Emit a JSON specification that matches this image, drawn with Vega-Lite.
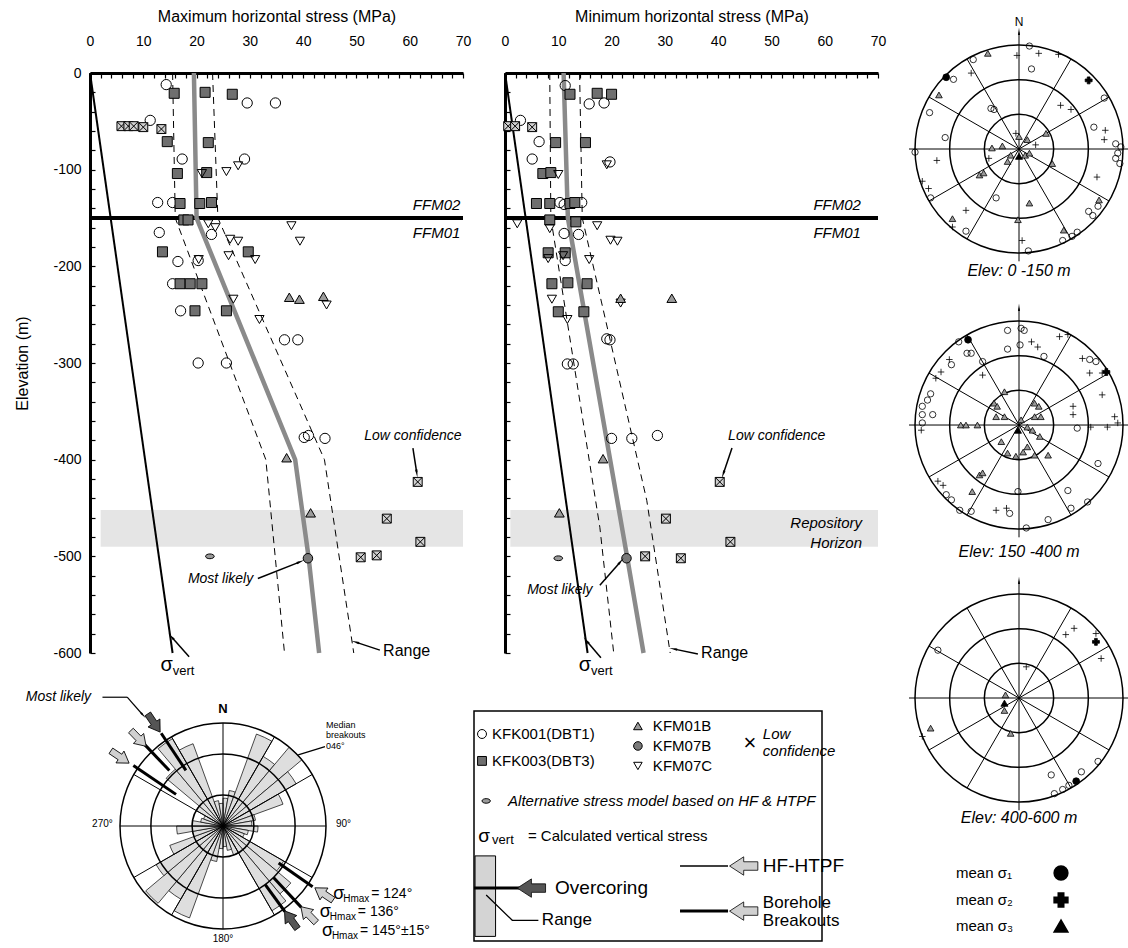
{
"$schema":"https://vega.github.io/schema/vega-lite/v6.json",
"background":"white",
"padding":{"left":14,"top":8,"right":0,"bottom":0},
"config":{"font":"Liberation Sans","view":{"stroke":null},
 "axis":{"labelFont":"Liberation Sans","titleFont":"Liberation Sans","labelColor":"black","titleColor":"black","domainColor":"black","tickColor":"black","titleFontWeight":"normal"},
 "text":{"font":"Liberation Sans","color":"black"},
 "legend":{"labelFont":"Liberation Sans","labelColor":"black"}},
"bounds":"full",
"spacing":22,
"resolve":{"scale":{"shape":"independent","fill":"independent","size":"independent"}},
"hconcat":[
{"bounds":"full","spacing":12,"resolve":{"scale":{"shape":"independent","fill":"independent","size":"independent"}},"vconcat":[
 {"bounds":"flush","spacing":42,"resolve":{"scale":{"shape":"independent","fill":"independent","size":"independent"}},"hconcat":[
  {"width":373,"height":580,
   "encoding":{
    "x":{"field":"x","type":"quantitative","scale":{"domain":[0,70],"nice":false,"zero":false},"axis":{"orient":"top","title":"Maximum horizontal stress (MPa)","values":[0,2,4,6,8,10,12,14,16,18,20,22,24,26,28,30,32,34,36,38,40,42,44,46,48,50,52,54,56,58,60,62,64,66,68,70],"labelExpr":"datum.value % 10 === 0 ? datum.label : ''","tickSize":-5,"labelPadding":30,"titlePadding":10,"domainWidth":3,"tickWidth":1.2,"labelFontSize":14,"titleFontSize":16,"grid":false,"labelFlush":false,"labelOverlap":false}},
    "y":{"field":"y","type":"quantitative","scale":{"domain":[-600,0],"nice":false,"zero":false},"axis":{"title":"Elevation (m)","values":[-600,-580,-560,-540,-520,-500,-480,-460,-440,-420,-400,-380,-360,-340,-320,-300,-280,-260,-240,-220,-200,-180,-160,-140,-120,-100,-80,-60,-40,-20,0],"labelExpr":"datum.value % 100 === 0 ? '' + datum.value : ''","tickSize":-5,"labelPadding":14,"titlePadding":22,"domainWidth":3,"tickWidth":1.2,"labelFontSize":14,"titleFontSize":16,"grid":false,"labelOverlap":false}}
   },
   "layer":[
    {"data":{"name":"band"},"transform":[{"filter":"datum.p=='max'"}],"mark":{"type":"rect","fill":"#d4d4d4","opacity":0.6},"encoding":{"x2":{"field":"x2"},"y2":{"field":"y2"}}},
    {"data":{"name":"ffm"},"mark":{"type":"rule","strokeWidth":4,"color":"black"},"encoding":{"x2":{"field":"x2"}}},
    {"data":{"name":"prof"},"transform":[{"filter":"datum.p=='max' && (datum.s=='lo' || datum.s=='hi')"}],"mark":{"type":"line","color":"black","strokeWidth":1,"strokeDash":[7,5]},"encoding":{"detail":{"field":"s"},"order":{"field":"y","type":"quantitative","sort":"descending"}}},
    {"data":{"name":"prof"},"transform":[{"filter":"datum.p=='max' && datum.s=='sv'"}],"mark":{"type":"line","color":"black","strokeWidth":2},"encoding":{"order":{"field":"y","type":"quantitative","sort":"descending"}}},
    {"data":{"name":"prof"},"transform":[{"filter":"datum.p=='max' && datum.s=='ml'"}],"mark":{"type":"line","color":"#8a8a8a","strokeWidth":4.5},"encoding":{"order":{"field":"y","type":"quantitative","sort":"descending"}}},
    {"data":{"name":"pts"},"transform":[{"filter":"datum.p=='max'"}],"mark":{"type":"point","filled":true,"stroke":"black","strokeWidth":1,"opacity":1},
     "encoding":{
      "shape":{"field":"s","type":"nominal","scale":{"domain":["KFK001(DBT1)","KFK003(DBT3)","KFM01B","KFM07B","KFM07C","Low confidence","Alternative"],"range":["circle","square","triangle-up","circle","triangle-down","M-1,-1H1V1H-1ZM-1,-1L1,1M-1,1L1,-1","M-1,0A1,0.55,0,1,1,1,0A1,0.55,0,1,1,-1,0Z"]},"legend":null},
      "fill":{"field":"s","type":"nominal","scale":{"domain":["KFK001(DBT1)","KFK003(DBT3)","KFM01B","KFM07B","KFM07C","Low confidence","Alternative"],"range":["transparent","#6f6f6f","#9a9a9a","#7a7a7a","transparent","#d0d0d0","#9a9a9a"]},"legend":null},
      "size":{"field":"s","type":"ordinal","scale":{"domain":["KFK001(DBT1)","KFK003(DBT3)","KFM01B","KFM07B","KFM07C","Low confidence","Alternative"],"range":[105,75,75,270,100,70,420]},"legend":null}}},
    {"data":{"name":"notes"},"transform":[{"filter":"datum.p=='max' && indexof(['FFM02','FFM01','Repository','Horizon'], datum.t) >= 0"}],"mark":{"type":"text","align":"right","baseline":"middle","fontStyle":"italic","fontSize":15},"encoding":{"text":{"field":"t"}}},
    {"data":{"name":"notes"},"transform":[{"filter":"datum.p=='max' && indexof(['Low confidence','Most likely'], datum.t) >= 0"}],"mark":{"type":"text","align":"center","baseline":"middle","fontStyle":"italic","fontSize":14},"encoding":{"text":{"field":"t"}}},
    {"data":{"name":"notes"},"transform":[{"filter":"datum.p=='max' && datum.t=='Range'"}],"mark":{"type":"text","align":"left","baseline":"middle","fontSize":16},"encoding":{"text":{"field":"t"}}},
    {"data":{"name":"notes"},"transform":[{"filter":"datum.p=='max' && datum.t=='σ'"}],"mark":{"type":"text","align":"center","baseline":"middle","fontSize":20},"encoding":{"text":{"field":"t"}}},
    {"data":{"name":"notes"},"transform":[{"filter":"datum.p=='max' && datum.t=='σ'"}],"mark":{"type":"text","align":"left","baseline":"middle","fontSize":13,"dx":6,"dy":6,"text":"vert"}},
    {"data":{"name":"arr"},"transform":[{"filter":"datum.p=='max'"}],"mark":{"type":"rule","strokeWidth":1.5,"color":"black"},"encoding":{"x2":{"field":"x2"},"y2":{"field":"y2"}}},
    {"data":{"name":"arr"},"transform":[{"filter":"datum.p=='max'"},{"calculate":"atan2((datum.x2-datum.x)*5.33,(datum.y2-datum.y)*0.967)*180/PI","as":"ang"}],"mark":{"type":"point","shape":"wedge","filled":true,"color":"black","size":90,"opacity":1},"encoding":{"x":{"field":"x2","type":"quantitative"},"y":{"field":"y2","type":"quantitative"},"angle":{"field":"ang","type":"quantitative","scale":null}}}
   ]},
  {"width":373,"height":580,
   "encoding":{
    "x":{"field":"x","type":"quantitative","scale":{"domain":[0,70],"nice":false,"zero":false},"axis":{"orient":"top","title":"Minimum horizontal stress (MPa)","values":[0,2,4,6,8,10,12,14,16,18,20,22,24,26,28,30,32,34,36,38,40,42,44,46,48,50,52,54,56,58,60,62,64,66,68,70],"labelExpr":"datum.value % 10 === 0 ? datum.label : ''","tickSize":-5,"labelPadding":30,"titlePadding":10,"domainWidth":3,"tickWidth":1.2,"labelFontSize":14,"titleFontSize":16,"grid":false,"labelFlush":false,"labelOverlap":false}},
    "y":{"field":"y","type":"quantitative","scale":{"domain":[-600,0],"nice":false,"zero":false},"axis":{"title":null,"labels":false,"values":[-600,-580,-560,-540,-520,-500,-480,-460,-440,-420,-400,-380,-360,-340,-320,-300,-280,-260,-240,-220,-200,-180,-160,-140,-120,-100,-80,-60,-40,-20,0],"tickSize":-5,"domainWidth":3,"tickWidth":1.2,"grid":false}}
   },
   "layer":[
    {"data":{"name":"band"},"transform":[{"filter":"datum.p=='min'"}],"mark":{"type":"rect","fill":"#d4d4d4","opacity":0.6},"encoding":{"x2":{"field":"x2"},"y2":{"field":"y2"}}},
    {"data":{"name":"ffm"},"mark":{"type":"rule","strokeWidth":4,"color":"black"},"encoding":{"x2":{"field":"x2"}}},
    {"data":{"name":"prof"},"transform":[{"filter":"datum.p=='min' && (datum.s=='lo' || datum.s=='hi')"}],"mark":{"type":"line","color":"black","strokeWidth":1,"strokeDash":[7,5]},"encoding":{"detail":{"field":"s"},"order":{"field":"y","type":"quantitative","sort":"descending"}}},
    {"data":{"name":"prof"},"transform":[{"filter":"datum.p=='min' && datum.s=='sv'"}],"mark":{"type":"line","color":"black","strokeWidth":2},"encoding":{"order":{"field":"y","type":"quantitative","sort":"descending"}}},
    {"data":{"name":"prof"},"transform":[{"filter":"datum.p=='min' && datum.s=='ml'"}],"mark":{"type":"line","color":"#8a8a8a","strokeWidth":4.5},"encoding":{"order":{"field":"y","type":"quantitative","sort":"descending"}}},
    {"data":{"name":"pts"},"transform":[{"filter":"datum.p=='min'"}],"mark":{"type":"point","filled":true,"stroke":"black","strokeWidth":1,"opacity":1},
     "encoding":{
      "shape":{"field":"s","type":"nominal","scale":{"domain":["KFK001(DBT1)","KFK003(DBT3)","KFM01B","KFM07B","KFM07C","Low confidence","Alternative"],"range":["circle","square","triangle-up","circle","triangle-down","M-1,-1H1V1H-1ZM-1,-1L1,1M-1,1L1,-1","M-1,0A1,0.55,0,1,1,1,0A1,0.55,0,1,1,-1,0Z"]},"legend":null},
      "fill":{"field":"s","type":"nominal","scale":{"domain":["KFK001(DBT1)","KFK003(DBT3)","KFM01B","KFM07B","KFM07C","Low confidence","Alternative"],"range":["transparent","#6f6f6f","#9a9a9a","#7a7a7a","transparent","#d0d0d0","#9a9a9a"]},"legend":null},
      "size":{"field":"s","type":"ordinal","scale":{"domain":["KFK001(DBT1)","KFK003(DBT3)","KFM01B","KFM07B","KFM07C","Low confidence","Alternative"],"range":[105,75,75,270,100,70,420]},"legend":null}}},
    {"data":{"name":"notes"},"transform":[{"filter":"datum.p=='min' && indexof(['FFM02','FFM01','Repository','Horizon'], datum.t) >= 0"}],"mark":{"type":"text","align":"right","baseline":"middle","fontStyle":"italic","fontSize":15},"encoding":{"text":{"field":"t"}}},
    {"data":{"name":"notes"},"transform":[{"filter":"datum.p=='min' && indexof(['Low confidence','Most likely'], datum.t) >= 0"}],"mark":{"type":"text","align":"center","baseline":"middle","fontStyle":"italic","fontSize":14},"encoding":{"text":{"field":"t"}}},
    {"data":{"name":"notes"},"transform":[{"filter":"datum.p=='min' && datum.t=='Range'"}],"mark":{"type":"text","align":"left","baseline":"middle","fontSize":16},"encoding":{"text":{"field":"t"}}},
    {"data":{"name":"notes"},"transform":[{"filter":"datum.p=='min' && datum.t=='σ'"}],"mark":{"type":"text","align":"center","baseline":"middle","fontSize":20},"encoding":{"text":{"field":"t"}}},
    {"data":{"name":"notes"},"transform":[{"filter":"datum.p=='min' && datum.t=='σ'"}],"mark":{"type":"text","align":"left","baseline":"middle","fontSize":13,"dx":6,"dy":6,"text":"vert"}},
    {"data":{"name":"arr"},"transform":[{"filter":"datum.p=='min'"}],"mark":{"type":"rule","strokeWidth":1.5,"color":"black"},"encoding":{"x2":{"field":"x2"},"y2":{"field":"y2"}}},
    {"data":{"name":"arr"},"transform":[{"filter":"datum.p=='min'"},{"calculate":"atan2((datum.x2-datum.x)*5.33,(datum.y2-datum.y)*0.967)*180/PI","as":"ang"}],"mark":{"type":"point","shape":"wedge","filled":true,"color":"black","size":90,"opacity":1},"encoding":{"x":{"field":"x2","type":"quantitative"},"y":{"field":"y2","type":"quantitative"},"angle":{"field":"ang","type":"quantitative","scale":null}}}
   ]}
 ]},
 {"bounds":"flush","spacing":118,"center":true,"resolve":{"scale":{"shape":"independent","fill":"independent","size":"independent"}},"hconcat":[
  {"width":266,"height":266,
   "encoding":{"x":{"field":"x","type":"quantitative","scale":{"domain":[-1.291,1.291],"nice":false,"zero":false},"axis":null},
               "y":{"field":"y","type":"quantitative","scale":{"domain":[-1.291,1.291],"nice":false,"zero":false},"axis":null}},
   "layer":[
    {"data":{"name":"petals"},"mark":{"type":"arc","fill":"#dedede","stroke":"black","strokeWidth":0.7},"encoding":{"x":null,"y":null,"theta":{"field":"a0","type":"quantitative","scale":{"domain":[0,360],"range":[0,6.2832]}},"theta2":{"field":"a1"},"radius":{"field":"r","type":"quantitative","scale":{"type":"linear","domain":[0,1],"range":[0,103],"zero":true}}}},
    {"data":{"name":"sp12"},"mark":{"type":"rule","strokeWidth":1,"color":"black"},"encoding":{"x2":{"field":"x2"},"y2":{"field":"y2"}}},
    {"data":{"name":"rring"},"mark":{"type":"point","filled":false,"stroke":"black","strokeWidth":1.5,"opacity":1},"encoding":{"size":{"field":"r","type":"quantitative","scale":{"type":"pow","exponent":2,"domain":[0,1],"range":[0,42436]},"legend":null}}},
    {"data":{"name":"rshaft"},"mark":{"type":"rule","strokeWidth":3,"color":"black"},"encoding":{"x2":{"field":"x2"},"y2":{"field":"y2"}}},
    {"data":{"name":"rarr"},"transform":[{"calculate":"(datum.b+180)%360","as":"rot"}],"mark":{"type":"point","filled":true,"stroke":"black","strokeWidth":0.8,"opacity":1,"size":484,"shape":"M-0.3,1L0.3,1L0.3,0L0.65,0L0,-1L-0.65,0L-0.3,0Z"},"encoding":{"fill":{"field":"k","type":"nominal","scale":{"domain":["light","dark"],"range":["#d0d0d0","#555555"]},"legend":null},"angle":{"field":"rot","type":"quantitative","scale":null}}},
    {"data":{"name":"rlead"},"mark":{"type":"rule","strokeWidth":1.2,"color":"black"},"encoding":{"x2":{"field":"x2"},"y2":{"field":"y2"}}},
    {"data":{"name":"rhead"},"transform":[{"calculate":"atan2(datum.x2-datum.x,datum.y2-datum.y)*180/PI","as":"ang"}],"mark":{"type":"point","shape":"wedge","filled":true,"color":"black","size":70,"opacity":1},"encoding":{"x":{"field":"x2","type":"quantitative"},"y":{"field":"y2","type":"quantitative"},"angle":{"field":"ang","type":"quantitative","scale":null}}},
    {"data":{"name":"rlab"},"transform":[{"filter":"datum.t!='N' && datum.t!='Most likely'"}],"mark":{"type":"text","align":"center","baseline":"middle","fontSize":10},"encoding":{"text":{"field":"t"}}},
    {"data":{"name":"rlab"},"transform":[{"filter":"datum.t=='N'"}],"mark":{"type":"text","align":"center","baseline":"middle","fontSize":13,"fontWeight":"bold"},"encoding":{"text":{"field":"t"}}},
    {"data":{"name":"rlab"},"transform":[{"filter":"datum.t=='Most likely'"}],"mark":{"type":"text","align":"right","baseline":"middle","fontSize":14,"fontStyle":"italic"},"encoding":{"text":{"field":"t"}}},
    {"data":{"name":"rmed"},"mark":{"type":"text","align":"left","baseline":"middle","fontSize":9},"encoding":{"text":{"field":"t"}}},
    {"data":{"name":"shm"},"mark":{"type":"text","align":"left","baseline":"middle","fontSize":18,"text":"σ"}},
    {"data":{"name":"shm"},"mark":{"type":"text","align":"left","baseline":"middle","fontSize":10,"dx":10,"dy":5,"text":"Hmax"}},
    {"data":{"name":"shm"},"mark":{"type":"text","align":"left","baseline":"middle","fontSize":14,"dx":38},"encoding":{"text":{"field":"v"}}}
   ]},
  {"width":348,"height":230,
   "view":{"stroke":"black","strokeWidth":1.5},
   "encoding":{"x":{"field":"x","type":"quantitative","scale":{"domain":[0,1],"nice":false,"zero":false},"axis":null},
               "y":{"field":"y","type":"quantitative","scale":{"domain":[0,1],"nice":false,"zero":false},"axis":null}},
   "layer":[
    {"data":{"name":"legrect"},"mark":{"type":"rect","fill":"#d4d4d4","stroke":"black","strokeWidth":1},"encoding":{"x2":{"field":"x2"},"y2":{"field":"y2"}}},
    {"data":{"name":"legrule"},"transform":[{"filter":"datum.k!='hf'"}],"mark":{"type":"rule","strokeWidth":3,"color":"black"},"encoding":{"x2":{"field":"x2"},"y2":{"field":"y2"}}},
    {"data":{"name":"legrule"},"transform":[{"filter":"datum.k=='hf'"}],"mark":{"type":"rule","strokeWidth":1.5,"color":"black"},"encoding":{"x2":{"field":"x2"},"y2":{"field":"y2"}}},
    {"data":{"name":"legline"},"mark":{"type":"line","strokeWidth":1.3,"color":"black"},"encoding":{"order":{"field":"o","type":"quantitative"}}},
    {"data":{"name":"legarr"},"transform":[{"filter":"datum.k=='dark'"}],"mark":{"type":"point","filled":true,"fill":"#555555","stroke":"black","strokeWidth":0.8,"opacity":1,"size":800,"angle":270,"shape":"M-0.3,1L0.3,1L0.3,0L0.65,0L0,-1L-0.65,0L-0.3,0Z"}},
    {"data":{"name":"legarr"},"transform":[{"filter":"datum.k=='light'"}],"mark":{"type":"point","filled":true,"fill":"#d0d0d0","stroke":"black","strokeWidth":0.8,"opacity":1,"size":800,"angle":270,"shape":"M-0.3,1L0.3,1L0.3,0L0.65,0L0,-1L-0.65,0L-0.3,0Z"}},
    {"data":{"name":"legsym"},"mark":{"type":"point","filled":true,"stroke":"black","strokeWidth":1,"opacity":1},
     "encoding":{
      "shape":{"field":"s","type":"nominal","scale":{"domain":["KFK001(DBT1)","KFK003(DBT3)","KFM01B","KFM07B","KFM07C","Alternative"],"range":["circle","square","triangle-up","circle","triangle-down","M-1,0A1,0.55,0,1,1,1,0A1,0.55,0,1,1,-1,0Z"]},"legend":null},
      "fill":{"field":"s","type":"nominal","scale":{"domain":["KFK001(DBT1)","KFK003(DBT3)","KFM01B","KFM07B","KFM07C","Alternative"],"range":["transparent","#6f6f6f","#9a9a9a","#7a7a7a","transparent","#9a9a9a"]},"legend":null},
      "size":{"field":"s","type":"ordinal","scale":{"domain":["KFK001(DBT1)","KFK003(DBT3)","KFM01B","KFM07B","KFM07C","Alternative"],"range":[80,70,70,90,90,420]},"legend":null}}},
    {"data":{"name":"legtxt"},"transform":[{"filter":"indexof(['KFK001(DBT1)','KFK003(DBT3)','KFM01B','KFM07B','KFM07C','= Calculated vertical stress'], datum.t) >= 0"}],"mark":{"type":"text","align":"left","baseline":"middle","fontSize":15},"encoding":{"text":{"field":"t"}}},
    {"data":{"name":"legtxt"},"transform":[{"filter":"indexof(['Low','confidence','Alternative stress model based on HF & HTPF'], datum.t) >= 0"}],"mark":{"type":"text","align":"left","baseline":"middle","fontSize":15,"fontStyle":"italic"},"encoding":{"text":{"field":"t"}}},
    {"data":{"name":"legtxt"},"transform":[{"filter":"indexof(['Overcoring','HF-HTPF'], datum.t) >= 0"}],"mark":{"type":"text","align":"left","baseline":"middle","fontSize":19},"encoding":{"text":{"field":"t"}}},
    {"data":{"name":"legtxt"},"transform":[{"filter":"indexof(['Range','Borehole','Breakouts'], datum.t) >= 0"}],"mark":{"type":"text","align":"left","baseline":"middle","fontSize":17},"encoding":{"text":{"field":"t"}}},
    {"data":{"name":"legtxt"},"transform":[{"filter":"datum.t=='×'"}],"mark":{"type":"text","align":"center","baseline":"middle","fontSize":22},"encoding":{"text":{"field":"t"}}},
    {"data":{"name":"legtxt"},"transform":[{"filter":"datum.t=='σ'"}],"mark":{"type":"text","align":"center","baseline":"middle","fontSize":19},"encoding":{"text":{"field":"t"}}},
    {"data":{"name":"legtxt"},"transform":[{"filter":"datum.t=='vert'"}],"mark":{"type":"text","align":"left","baseline":"middle","fontSize":13},"encoding":{"text":{"field":"t"}}}
   ]}
 ]}
]},
{"bounds":"flush","spacing":20,"resolve":{"scale":{"shape":"independent","fill":"independent","size":"independent"}},"vconcat":[
 {"width":220,"height":222,
  "encoding":{"x":{"field":"x","type":"quantitative","scale":{"domain":[-1.058,1.058],"nice":false,"zero":false},"axis":null},
              "y":{"field":"y","type":"quantitative","scale":{"domain":[-1.404,0.731],"nice":false,"zero":false},"axis":null}},
  "layer":[
   {"data":{"name":"sgrid"},"mark":{"type":"rule","strokeWidth":1,"color":"black"},"encoding":{"x2":{"field":"x2"},"y2":{"field":"y2"}}},
   {"data":{"name":"snorth"},"mark":{"type":"point","shape":"wedge","filled":true,"color":"black","size":70,"opacity":1}},
   {"data":{"name":"sring"},"mark":{"type":"point","filled":false,"stroke":"black","strokeWidth":1.5,"opacity":1},"encoding":{"size":{"field":"r","type":"quantitative","scale":{"type":"pow","exponent":2,"domain":[0,1],"range":[0,43264]},"legend":null}}},
   {"data":{"name":"st"},"transform":[{"filter":"datum.n==1"}],"mark":{"type":"point","filled":true,"stroke":"black","strokeWidth":0.8,"opacity":1},
    "encoding":{
     "shape":{"field":"k","type":"nominal","scale":{"domain":["s1","s2","s3","m1","m2","m3"],"range":["circle","M-1,0L1,0M0,-1L0,1","triangle-up","circle","cross","triangle-up"]},"legend":null},
     "fill":{"field":"k","type":"nominal","scale":{"domain":["s1","s2","s3","m1","m2","m3"],"range":["transparent","transparent","#9a9a9a","black","black","black"]},"legend":null},
     "size":{"field":"k","type":"ordinal","scale":{"domain":["s1","s2","s3","m1","m2","m3"],"range":[40,50,30,180,280,210]},"legend":null}}},
   {"data":{"name":"stitle"},"transform":[{"filter":"datum.n==1 && datum.t!='N'"}],"mark":{"type":"text","fontSize":16,"fontStyle":"italic"},"encoding":{"text":{"field":"t"}}},
   {"data":{"name":"stitle"},"transform":[{"filter":"datum.t=='N'"}],"mark":{"type":"text","fontSize":12},"encoding":{"text":{"field":"t"}}}
  ]},
 {"width":220,"height":253,
  "encoding":{"x":{"field":"x","type":"quantitative","scale":{"domain":[-1.058,1.058],"nice":false,"zero":false},"axis":null},
              "y":{"field":"y","type":"quantitative","scale":{"domain":[-1.375,1.058],"nice":false,"zero":false},"axis":null}},
  "layer":[
   {"data":{"name":"sgrid"},"mark":{"type":"rule","strokeWidth":1,"color":"black"},"encoding":{"x2":{"field":"x2"},"y2":{"field":"y2"}}},
   {"data":{"name":"snorth"},"mark":{"type":"point","shape":"wedge","filled":true,"color":"black","size":70,"opacity":1}},
   {"data":{"name":"sring"},"mark":{"type":"point","filled":false,"stroke":"black","strokeWidth":1.5,"opacity":1},"encoding":{"size":{"field":"r","type":"quantitative","scale":{"type":"pow","exponent":2,"domain":[0,1],"range":[0,43264]},"legend":null}}},
   {"data":{"name":"st"},"transform":[{"filter":"datum.n==2"}],"mark":{"type":"point","filled":true,"stroke":"black","strokeWidth":0.8,"opacity":1},
    "encoding":{
     "shape":{"field":"k","type":"nominal","scale":{"domain":["s1","s2","s3","m1","m2","m3"],"range":["circle","M-1,0L1,0M0,-1L0,1","triangle-up","circle","cross","triangle-up"]},"legend":null},
     "fill":{"field":"k","type":"nominal","scale":{"domain":["s1","s2","s3","m1","m2","m3"],"range":["transparent","transparent","#9a9a9a","black","black","black"]},"legend":null},
     "size":{"field":"k","type":"ordinal","scale":{"domain":["s1","s2","s3","m1","m2","m3"],"range":[40,50,30,180,280,210]},"legend":null}}},
   {"data":{"name":"stitle"},"transform":[{"filter":"datum.n==2"}],"mark":{"type":"text","fontSize":16,"fontStyle":"italic"},"encoding":{"text":{"field":"t"}}}
  ]},
 {"width":220,"height":220,
  "encoding":{"x":{"field":"x","type":"quantitative","scale":{"domain":[-1.058,1.058],"nice":false,"zero":false},"axis":null},
              "y":{"field":"y","type":"quantitative","scale":{"domain":[-1.058,1.058],"nice":false,"zero":false},"axis":null}},
  "layer":[
   {"data":{"name":"sgrid"},"mark":{"type":"rule","strokeWidth":1,"color":"black"},"encoding":{"x2":{"field":"x2"},"y2":{"field":"y2"}}},
   {"data":{"name":"snorth"},"mark":{"type":"point","shape":"wedge","filled":true,"color":"black","size":70,"opacity":1}},
   {"data":{"name":"sring"},"mark":{"type":"point","filled":false,"stroke":"black","strokeWidth":1.5,"opacity":1},"encoding":{"size":{"field":"r","type":"quantitative","scale":{"type":"pow","exponent":2,"domain":[0,1],"range":[0,43264]},"legend":null}}},
   {"data":{"name":"st"},"transform":[{"filter":"datum.n==3"}],"mark":{"type":"point","filled":true,"stroke":"black","strokeWidth":0.8,"opacity":1},
    "encoding":{
     "shape":{"field":"k","type":"nominal","scale":{"domain":["s1","s2","s3","m1","m2","m3"],"range":["circle","M-1,0L1,0M0,-1L0,1","triangle-up","circle","cross","triangle-up"]},"legend":{"values":["m1","m2","m3"],"title":null,"orient":"none","legendX":47,"legendY":277,"labelExpr":"datum.label == 'm1' ? 'mean σ₁' : datum.label == 'm2' ? 'mean σ₂' : 'mean σ₃'","labelFontSize":15,"rowPadding":7,"symbolFillColor":"black","symbolStrokeColor":"black","symbolSize":190,"symbolOffset":97,"labelOffset":-113,"labelAlign":"left"}},
     "fill":{"field":"k","type":"nominal","scale":{"domain":["s1","s2","s3","m1","m2","m3"],"range":["transparent","transparent","#9a9a9a","black","black","black"]},"legend":null},
     "size":{"field":"k","type":"ordinal","scale":{"domain":["s1","s2","s3","m1","m2","m3"],"range":[40,50,30,180,280,210]},"legend":null}}},
   {"data":{"name":"stitle"},"transform":[{"filter":"datum.n==3"}],"mark":{"type":"text","fontSize":16,"fontStyle":"italic"},"encoding":{"text":{"field":"t"}}}
  ]}
]}
],
"datasets":{
"band":[{"p":"max","x":2,"x2":70,"y":-452,"y2":-490},{"p":"min","x":1,"x2":70,"y":-452,"y2":-490}],
"ffm":[{"x":0,"x2":70,"y":-150}],
"prof":[
{"p":"max","s":"sv","x":0,"y":0},{"p":"max","s":"sv","x":15.5,"y":-600},
{"p":"max","s":"ml","x":19.5,"y":0},{"p":"max","s":"ml","x":20,"y":-150},{"p":"max","s":"ml","x":38.5,"y":-400},{"p":"max","s":"ml","x":41,"y":-500},{"p":"max","s":"ml","x":43,"y":-600},
{"p":"max","s":"lo","x":15.5,"y":0},{"p":"max","s":"lo","x":16,"y":-150},{"p":"max","s":"lo","x":33,"y":-400},{"p":"max","s":"lo","x":36.5,"y":-600},
{"p":"max","s":"hi","x":23,"y":0},{"p":"max","s":"hi","x":24,"y":-150},{"p":"max","s":"hi","x":44,"y":-400},{"p":"max","s":"hi","x":49.5,"y":-600},
{"p":"min","s":"sv","x":0,"y":0},{"p":"min","s":"sv","x":15.5,"y":-600},
{"p":"min","s":"ml","x":11,"y":0},{"p":"min","s":"ml","x":11.8,"y":-150},{"p":"min","s":"ml","x":22.9,"y":-500},{"p":"min","s":"ml","x":26,"y":-600},
{"p":"min","s":"lo","x":8.4,"y":0},{"p":"min","s":"lo","x":8.6,"y":-150},{"p":"min","s":"lo","x":17.8,"y":-470},{"p":"min","s":"lo","x":20.4,"y":-600},
{"p":"min","s":"hi","x":14,"y":0},{"p":"min","s":"hi","x":14.5,"y":-150},{"p":"min","s":"hi","x":26.6,"y":-442},{"p":"min","s":"hi","x":31,"y":-600}],
"pts":[
{"p":"max","s":"KFK001(DBT1)","x":14.3,"y":-12},{"p":"max","s":"KFK001(DBT1)","x":29.5,"y":-31},{"p":"max","s":"KFK001(DBT1)","x":34.8,"y":-31},{"p":"max","s":"KFK001(DBT1)","x":11.3,"y":-49},{"p":"max","s":"KFK001(DBT1)","x":17.3,"y":-89},{"p":"max","s":"KFK001(DBT1)","x":29,"y":-89},{"p":"max","s":"KFK001(DBT1)","x":12.7,"y":-134},{"p":"max","s":"KFK001(DBT1)","x":15.5,"y":-134},{"p":"max","s":"KFK001(DBT1)","x":13,"y":-165},{"p":"max","s":"KFK001(DBT1)","x":22.8,"y":-167},{"p":"max","s":"KFK001(DBT1)","x":16.5,"y":-195},{"p":"max","s":"KFK001(DBT1)","x":20.3,"y":-194},{"p":"max","s":"KFK001(DBT1)","x":15.5,"y":-218},{"p":"max","s":"KFK001(DBT1)","x":17,"y":-246},{"p":"max","s":"KFK001(DBT1)","x":36.5,"y":-276},{"p":"max","s":"KFK001(DBT1)","x":39,"y":-276},{"p":"max","s":"KFK001(DBT1)","x":20.3,"y":-300},{"p":"max","s":"KFK001(DBT1)","x":25.6,"y":-300},{"p":"max","s":"KFK001(DBT1)","x":40.2,"y":-377},{"p":"max","s":"KFK001(DBT1)","x":41,"y":-375},{"p":"max","s":"KFK001(DBT1)","x":44.1,"y":-378},
{"p":"max","s":"KFK003(DBT3)","x":15.8,"y":-21},{"p":"max","s":"KFK003(DBT3)","x":21.6,"y":-20},{"p":"max","s":"KFK003(DBT3)","x":26.7,"y":-22},{"p":"max","s":"KFK003(DBT3)","x":14.5,"y":-71},{"p":"max","s":"KFK003(DBT3)","x":22.2,"y":-72},{"p":"max","s":"KFK003(DBT3)","x":16.4,"y":-104},{"p":"max","s":"KFK003(DBT3)","x":21.9,"y":-103},{"p":"max","s":"KFK003(DBT3)","x":16.9,"y":-135},{"p":"max","s":"KFK003(DBT3)","x":20.6,"y":-135},{"p":"max","s":"KFK003(DBT3)","x":22.8,"y":-134},{"p":"max","s":"KFK003(DBT3)","x":17.6,"y":-152},{"p":"max","s":"KFK003(DBT3)","x":18.4,"y":-152},{"p":"max","s":"KFK003(DBT3)","x":13.6,"y":-185},{"p":"max","s":"KFK003(DBT3)","x":29.7,"y":-185},{"p":"max","s":"KFK003(DBT3)","x":16.9,"y":-218},{"p":"max","s":"KFK003(DBT3)","x":18.8,"y":-218},{"p":"max","s":"KFK003(DBT3)","x":21,"y":-218},{"p":"max","s":"KFK003(DBT3)","x":19.7,"y":-246},{"p":"max","s":"KFK003(DBT3)","x":25.6,"y":-246},
{"p":"max","s":"Low confidence","x":5.9,"y":-55},{"p":"max","s":"Low confidence","x":7.2,"y":-55},{"p":"max","s":"Low confidence","x":8.2,"y":-55},{"p":"max","s":"Low confidence","x":10,"y":-56},{"p":"max","s":"Low confidence","x":13.4,"y":-58},{"p":"max","s":"Low confidence","x":61.5,"y":-423},{"p":"max","s":"Low confidence","x":55.7,"y":-461},{"p":"max","s":"Low confidence","x":62,"y":-485},{"p":"max","s":"Low confidence","x":50.8,"y":-501},{"p":"max","s":"Low confidence","x":53.8,"y":-499},
{"p":"max","s":"KFM07C","x":21,"y":-104},{"p":"max","s":"KFM07C","x":25.6,"y":-102},{"p":"max","s":"KFM07C","x":27.8,"y":-96},{"p":"max","s":"KFM07C","x":22.2,"y":-156},{"p":"max","s":"KFM07C","x":23.5,"y":-160},{"p":"max","s":"KFM07C","x":37.8,"y":-158},{"p":"max","s":"KFM07C","x":39.4,"y":-174},{"p":"max","s":"KFM07C","x":26.3,"y":-172},{"p":"max","s":"KFM07C","x":27.8,"y":-174},{"p":"max","s":"KFM07C","x":26,"y":-189},{"p":"max","s":"KFM07C","x":31,"y":-193},{"p":"max","s":"KFM07C","x":20.4,"y":-193},{"p":"max","s":"KFM07C","x":26.9,"y":-234},{"p":"max","s":"KFM07C","x":31.8,"y":-255},{"p":"max","s":"KFM07C","x":44.4,"y":-240},
{"p":"max","s":"KFM01B","x":37.4,"y":-232},{"p":"max","s":"KFM01B","x":39.3,"y":-234},{"p":"max","s":"KFM01B","x":43.8,"y":-231},{"p":"max","s":"KFM01B","x":36.9,"y":-398},{"p":"max","s":"KFM01B","x":41.4,"y":-455},
{"p":"max","s":"KFM07B","x":40.9,"y":-502},{"p":"max","s":"Alternative","x":22.5,"y":-500},
{"p":"min","s":"KFK001(DBT1)","x":11.3,"y":-13},{"p":"min","s":"KFK001(DBT1)","x":15.8,"y":-32},{"p":"min","s":"KFK001(DBT1)","x":18.6,"y":-31},{"p":"min","s":"KFK001(DBT1)","x":2.9,"y":-49},{"p":"min","s":"KFK001(DBT1)","x":6.4,"y":-71},{"p":"min","s":"KFK001(DBT1)","x":5.1,"y":-89},{"p":"min","s":"KFK001(DBT1)","x":19.7,"y":-92},{"p":"min","s":"KFK001(DBT1)","x":10.3,"y":-134},{"p":"min","s":"KFK001(DBT1)","x":11.1,"y":-136},{"p":"min","s":"KFK001(DBT1)","x":14.4,"y":-134},{"p":"min","s":"KFK001(DBT1)","x":11.1,"y":-166},{"p":"min","s":"KFK001(DBT1)","x":13.8,"y":-167},{"p":"min","s":"KFK001(DBT1)","x":11.3,"y":-194},{"p":"min","s":"KFK001(DBT1)","x":19.1,"y":-275},{"p":"min","s":"KFK001(DBT1)","x":19.7,"y":-276},{"p":"min","s":"KFK001(DBT1)","x":11.7,"y":-301},{"p":"min","s":"KFK001(DBT1)","x":12.8,"y":-301},{"p":"min","s":"KFK001(DBT1)","x":20,"y":-378},{"p":"min","s":"KFK001(DBT1)","x":23.8,"y":-378},{"p":"min","s":"KFK001(DBT1)","x":28.6,"y":-375},
{"p":"min","s":"KFK003(DBT3)","x":12.2,"y":-22},{"p":"min","s":"KFK003(DBT3)","x":17.3,"y":-21},{"p":"min","s":"KFK003(DBT3)","x":20,"y":-22},{"p":"min","s":"KFK003(DBT3)","x":9.5,"y":-72},{"p":"min","s":"KFK003(DBT3)","x":15.1,"y":-72},{"p":"min","s":"KFK003(DBT3)","x":7.1,"y":-104},{"p":"min","s":"KFK003(DBT3)","x":8.6,"y":-103},{"p":"min","s":"KFK003(DBT3)","x":5.9,"y":-135},{"p":"min","s":"KFK003(DBT3)","x":8.4,"y":-135},{"p":"min","s":"KFK003(DBT3)","x":12.2,"y":-135},{"p":"min","s":"KFK003(DBT3)","x":13.1,"y":-134},{"p":"min","s":"KFK003(DBT3)","x":8.4,"y":-152},{"p":"min","s":"KFK003(DBT3)","x":13.3,"y":-154},{"p":"min","s":"KFK003(DBT3)","x":8.1,"y":-186},{"p":"min","s":"KFK003(DBT3)","x":11.3,"y":-186},{"p":"min","s":"KFK003(DBT3)","x":8.8,"y":-218},{"p":"min","s":"KFK003(DBT3)","x":11.8,"y":-217},{"p":"min","s":"KFK003(DBT3)","x":15.4,"y":-218},{"p":"min","s":"KFK003(DBT3)","x":10,"y":-247},{"p":"min","s":"KFK003(DBT3)","x":14.8,"y":-247},
{"p":"min","s":"Low confidence","x":0.6,"y":-55},{"p":"min","s":"Low confidence","x":1.9,"y":-55},{"p":"min","s":"Low confidence","x":5.1,"y":-56},{"p":"min","s":"Low confidence","x":40.3,"y":-423},{"p":"min","s":"Low confidence","x":30.2,"y":-461},{"p":"min","s":"Low confidence","x":42.3,"y":-485},{"p":"min","s":"Low confidence","x":26.3,"y":-500},{"p":"min","s":"Low confidence","x":33,"y":-502},
{"p":"min","s":"KFM07C","x":10,"y":-105},{"p":"min","s":"KFM07C","x":19.1,"y":-95},{"p":"min","s":"KFM07C","x":2.3,"y":-156},{"p":"min","s":"KFM07C","x":8.4,"y":-161},{"p":"min","s":"KFM07C","x":17.3,"y":-158},{"p":"min","s":"KFM07C","x":19.8,"y":-173},{"p":"min","s":"KFM07C","x":21.1,"y":-174},{"p":"min","s":"KFM07C","x":8.1,"y":-192},{"p":"min","s":"KFM07C","x":10.9,"y":-189},{"p":"min","s":"KFM07C","x":15.8,"y":-193},{"p":"min","s":"KFM07C","x":8.8,"y":-234},{"p":"min","s":"KFM07C","x":11.7,"y":-255},{"p":"min","s":"KFM07C","x":21.7,"y":-238},
{"p":"min","s":"KFM01B","x":21.7,"y":-233},{"p":"min","s":"KFM01B","x":31.3,"y":-233},{"p":"min","s":"KFM01B","x":18.4,"y":-399},{"p":"min","s":"KFM01B","x":10.2,"y":-455},
{"p":"min","s":"KFM07B","x":22.8,"y":-502},{"p":"min","s":"Alternative","x":10,"y":-502}],
"notes":[
{"p":"max","t":"FFM02","x":69.5,"y":-137},{"p":"max","t":"FFM01","x":69.5,"y":-165},{"p":"max","t":"Low confidence","x":60.6,"y":-376},{"p":"max","t":"Most likely","x":24.5,"y":-523},{"p":"max","t":"Range","x":55,"y":-598},{"p":"max","t":"σ","x":14.4,"y":-612},
{"p":"min","t":"FFM02","x":66.8,"y":-137},{"p":"min","t":"FFM01","x":66.8,"y":-165},{"p":"min","t":"Low confidence","x":51,"y":-376},{"p":"min","t":"Most likely","x":10.3,"y":-535},{"p":"min","t":"Repository","x":67,"y":-465},{"p":"min","t":"Horizon","x":67,"y":-486},{"p":"min","t":"Range","x":36.8,"y":-600},{"p":"min","t":"σ","x":15,"y":-612}],
"arr":[
{"p":"max","x":31.5,"y":-523,"x2":39.3,"y2":-506},{"p":"max","x":60.6,"y":-388,"x2":61.3,"y2":-413},{"p":"max","x":54.4,"y":-597,"x2":50,"y2":-589},{"p":"max","x":18.6,"y":-604,"x2":15.4,"y2":-584},
{"p":"min","x":17.8,"y":-530,"x2":21.6,"y2":-506},{"p":"min","x":42.6,"y":-388,"x2":41,"y2":-414},{"p":"min","x":36.2,"y":-601,"x2":31.8,"y2":-596},{"p":"min","x":18,"y":-605,"x2":15.4,"y2":-588}],
"petals":[
{"a0":0,"a1":10,"r":0.27},{"a0":10,"a1":20,"r":0.35},{"a0":20,"a1":30,"r":0.95},{"a0":30,"a1":40,"r":0.78},{"a0":40,"a1":50,"r":1.0},{"a0":50,"a1":60,"r":0.82},{"a0":60,"a1":70,"r":0.62},{"a0":70,"a1":80,"r":0.32},{"a0":80,"a1":90,"r":0.28},{"a0":90,"a1":100,"r":0.34},{"a0":100,"a1":110,"r":0.25},{"a0":110,"a1":120,"r":0.22},{"a0":120,"a1":130,"r":0.68},{"a0":130,"a1":140,"r":0.86},{"a0":140,"a1":150,"r":0.95},{"a0":150,"a1":160,"r":0.3},{"a0":160,"a1":170,"r":0.24},{"a0":170,"a1":180,"r":0.2},
{"a0":180,"a1":190,"r":0.22},{"a0":190,"a1":200,"r":0.35},{"a0":200,"a1":210,"r":0.95},{"a0":210,"a1":220,"r":0.82},{"a0":220,"a1":230,"r":0.98},{"a0":230,"a1":240,"r":0.75},{"a0":240,"a1":250,"r":0.55},{"a0":250,"a1":260,"r":0.3},{"a0":260,"a1":270,"r":0.45},{"a0":270,"a1":280,"r":0.3},{"a0":280,"a1":290,"r":0.22},{"a0":290,"a1":300,"r":0.2},{"a0":300,"a1":310,"r":0.3},{"a0":310,"a1":320,"r":0.72},{"a0":320,"a1":330,"r":0.98},{"a0":330,"a1":340,"r":0.85},{"a0":340,"a1":350,"r":0.25},{"a0":350,"a1":360,"r":0.22}],
"sp12":[{"x":0,"y":0,"x2":0,"y2":1},{"x":0,"y":0,"x2":0.5,"y2":0.866},{"x":0,"y":0,"x2":0.866,"y2":0.5},{"x":0,"y":0,"x2":1,"y2":0},{"x":0,"y":0,"x2":0.866,"y2":-0.5},{"x":0,"y":0,"x2":0.5,"y2":-0.866},{"x":0,"y":0,"x2":0,"y2":-1},{"x":0,"y":0,"x2":-0.5,"y2":-0.866},{"x":0,"y":0,"x2":-0.866,"y2":-0.5},{"x":0,"y":0,"x2":-1,"y2":0},{"x":0,"y":0,"x2":-0.866,"y2":0.5},{"x":0,"y":0,"x2":-0.5,"y2":0.866}],
"sgrid":[{"x":0,"y":0,"x2":0.5,"y2":0.866},{"x":0,"y":0,"x2":0.866,"y2":0.5},{"x":0,"y":0,"x2":0.866,"y2":-0.5},{"x":0,"y":0,"x2":0.5,"y2":-0.866},{"x":0,"y":0,"x2":-0.5,"y2":-0.866},{"x":0,"y":0,"x2":-0.866,"y2":-0.5},{"x":0,"y":0,"x2":-0.866,"y2":0.5},{"x":0,"y":0,"x2":-0.5,"y2":0.866},{"x":-1.058,"y":0,"x2":1.05,"y2":0},{"x":0,"y":-1.08,"x2":0,"y2":1.12}],
"snorth":[{"x":0,"y":1.12}],
"rring":[{"x":0,"y":0,"r":0.3},{"x":0,"y":0,"r":0.7},{"x":0,"y":0,"r":1}],
"sring":[{"x":0,"y":0,"r":0.3333},{"x":0,"y":0,"r":0.6667},{"x":0,"y":0,"r":1}],
"stitle":[{"n":1,"t":"Elev: 0 -150 m","x":0,"y":-1.17},{"n":1,"t":"N","x":0,"y":1.22},{"n":2,"t":"Elev: 150 -400 m","x":0,"y":-1.22},{"n":3,"t":"Elev: 400-600 m","x":0,"y":-1.15}],
"rshaft":[{"x":-0.456,"y":0.307,"x2":-0.87,"y2":0.587},{"x":-0.521,"y":0.539,"x2":-0.76,"y2":0.79},{"x":-0.36,"y":0.54,"x2":-0.6,"y2":0.9},{"x":0.54,"y":-0.36,"x2":0.87,"y2":-0.59},{"x":0.49,"y":-0.5,"x2":0.76,"y2":-0.79},{"x":0.41,"y":-0.57,"x2":0.6,"y2":-0.83}],
"rarr":[{"k":"light","b":304,"x":-1.0,"y":0.67},{"k":"light","b":316,"x":-0.82,"y":0.85},{"k":"dark","b":326,"x":-0.67,"y":1.0},{"k":"light","b":124,"x":0.98,"y":-0.66},{"k":"light","b":136,"x":0.83,"y":-0.86},{"k":"dark","b":144,"x":0.66,"y":-0.91}],
"rlead":[{"x":-1.17,"y":1.25,"x2":-0.93,"y2":1.25},{"x":-0.93,"y":1.25,"x2":-0.78,"y2":1.08},{"x":0.99,"y":0.77,"x2":0.73,"y2":0.69}],
"rhead":[{"x":-0.93,"y":1.25,"x2":-0.78,"y2":1.08}],
"rlab":[{"t":"N","x":0,"y":1.14},{"t":"90°","x":1.17,"y":0.02},{"t":"180°","x":0,"y":-1.1},{"t":"270°","x":-1.17,"y":0.02},{"t":"Most likely","x":-1.28,"y":1.25}],
"rmed":[{"t":"Median","x":1.0,"y":0.98},{"t":"breakouts","x":1.0,"y":0.88},{"t":"046°","x":1.0,"y":0.78}],
"shm":[{"v":"= 124°","x":1.07,"y":-0.66},{"v":"= 136°","x":0.94,"y":-0.83},{"v":"= 145°±15°","x":0.96,"y":-1.02}],
"legrect":[{"x":0.003,"x2":0.062,"y":0.02,"y2":0.37}],
"legrule":[{"k":"oc","x":0.0,"y":0.23,"x2":0.13,"y2":0.23},{"k":"hf","x":0.592,"y":0.326,"x2":0.73,"y2":0.326},{"k":"bb","x":0.592,"y":0.13,"x2":0.73,"y2":0.13}],
"legline":[{"x":0.035,"y":0.2,"o":1},{"x":0.11,"y":0.09,"o":2},{"x":0.185,"y":0.09,"o":3}],
"legarr":[{"k":"dark","x":0.165,"y":0.23},{"k":"light","x":0.775,"y":0.326},{"k":"light","x":0.775,"y":0.13}],
"legsym":[{"s":"KFK001(DBT1)","x":0.023,"y":0.9},{"s":"KFK003(DBT3)","x":0.023,"y":0.783},{"s":"KFM01B","x":0.471,"y":0.935},{"s":"KFM07B","x":0.471,"y":0.848},{"s":"KFM07C","x":0.471,"y":0.761},{"s":"Alternative","x":0.035,"y":0.609}],
"legtxt":[{"t":"KFK001(DBT1)","x":0.052,"y":0.9},{"t":"KFK003(DBT3)","x":0.052,"y":0.783},{"t":"KFM01B","x":0.514,"y":0.935},{"t":"KFM07B","x":0.514,"y":0.848},{"t":"KFM07C","x":0.514,"y":0.761},{"t":"×","x":0.793,"y":0.861},{"t":"Low","x":0.83,"y":0.9},{"t":"confidence","x":0.83,"y":0.826},{"t":"Alternative stress model based on HF & HTPF","x":0.098,"y":0.609},{"t":"σ","x":0.029,"y":0.457},{"t":"vert","x":0.052,"y":0.44},{"t":"= Calculated vertical stress","x":0.155,"y":0.457},{"t":"Overcoring","x":0.233,"y":0.23},{"t":"Range","x":0.195,"y":0.09},{"t":"HF-HTPF","x":0.83,"y":0.326},{"t":"Borehole","x":0.83,"y":0.165},{"t":"Breakouts","x":0.83,"y":0.087}],
"st":[
{"n":1,"k":"s1","x":0.10,"y":0.99},{"n":1,"k":"s1","x":-0.44,"y":0.86},{"n":1,"k":"s1","x":0.12,"y":0.77},{"n":1,"k":"s1","x":-0.63,"y":0.67},{"n":1,"k":"s1","x":-0.86,"y":0.35},{"n":1,"k":"s1","x":-0.71,"y":0.11},{"n":1,"k":"s1","x":-0.27,"y":0.39},{"n":1,"k":"s1","x":-0.24,"y":0.38},{"n":1,"k":"s1","x":-1.0,"y":-0.03},{"n":1,"k":"s1","x":0.72,"y":0.21},{"n":1,"k":"s1","x":0.82,"y":0.49},{"n":1,"k":"s1","x":0.93,"y":0.05},{"n":1,"k":"s1","x":0.98,"y":0.02},{"n":1,"k":"s1","x":0.95,"y":-0.04},{"n":1,"k":"s1","x":0.93,"y":-0.09},{"n":1,"k":"s1","x":0.97,"y":-0.14},{"n":1,"k":"s1","x":0.76,"y":-0.55},{"n":1,"k":"s1","x":0.67,"y":-0.6},{"n":1,"k":"s1","x":0.71,"y":-0.64},{"n":1,"k":"s1","x":0.56,"y":-0.8},{"n":1,"k":"s1","x":0.51,"y":-0.84},{"n":1,"k":"s1","x":0.42,"y":-0.88},{"n":1,"k":"s1","x":0.09,"y":-0.98},{"n":1,"k":"s1","x":-0.22,"y":-0.47},{"n":1,"k":"s1","x":-0.51,"y":-0.79},{"n":1,"k":"s1","x":-0.85,"y":-0.47},
{"n":1,"k":"s2","x":-0.02,"y":0.9},{"n":1,"k":"s2","x":0.19,"y":0.92},{"n":1,"k":"s2","x":0.38,"y":0.91},{"n":1,"k":"s2","x":-0.46,"y":0.73},{"n":1,"k":"s2","x":0.4,"y":0.42},{"n":1,"k":"s2","x":0.5,"y":0.38},{"n":1,"k":"s2","x":0.83,"y":0.18},{"n":1,"k":"s2","x":0.82,"y":0.09},{"n":1,"k":"s2","x":-0.79,"y":-0.11},{"n":1,"k":"s2","x":-0.87,"y":-0.38},{"n":1,"k":"s2","x":-0.93,"y":-0.31},{"n":1,"k":"s2","x":-0.51,"y":-0.59},{"n":1,"k":"s2","x":-0.64,"y":-0.75},{"n":1,"k":"s2","x":0.75,"y":-0.27},{"n":1,"k":"s2","x":0.03,"y":-0.88},{"n":1,"k":"s2","x":0.16,"y":0.04},{"n":1,"k":"s2","x":-0.03,"y":0.15},{"n":1,"k":"s2","x":-0.29,"y":-0.09},
{"n":1,"k":"s3","x":0,"y":0.12},{"n":1,"k":"s3","x":0.08,"y":0.09},{"n":1,"k":"s3","x":0.26,"y":0.15},{"n":1,"k":"s3","x":-0.16,"y":0.03},{"n":1,"k":"s3","x":-0.26,"y":0.01},{"n":1,"k":"s3","x":-0.08,"y":-0.06},{"n":1,"k":"s3","x":0.06,"y":-0.06},{"n":1,"k":"s3","x":0.1,"y":-0.04},{"n":1,"k":"s3","x":-0.11,"y":-0.12},{"n":1,"k":"s3","x":0.32,"y":-0.14},{"n":1,"k":"s3","x":-0.38,"y":-0.25},{"n":1,"k":"s3","x":-0.34,"y":-0.23},{"n":1,"k":"s3","x":-0.77,"y":0.52},{"n":1,"k":"s3","x":-0.3,"y":0.92},{"n":1,"k":"s3","x":0.1,"y":-0.52},{"n":1,"k":"s3","x":-0.01,"y":-0.68},{"n":1,"k":"s3","x":0.77,"y":-0.49},{"n":1,"k":"s3","x":-0.64,"y":-0.67},{"n":1,"k":"s3","x":0.43,"y":-0.78},
{"n":1,"k":"m1","x":-0.7,"y":0.69},{"n":1,"k":"m2","x":0.67,"y":0.66},{"n":1,"k":"m3","x":0,"y":-0.07},
{"n":2,"k":"s1","x":-0.11,"y":0.91},{"n":2,"k":"s1","x":0.02,"y":0.93},{"n":2,"k":"s1","x":0.05,"y":0.91},{"n":2,"k":"s1","x":0.01,"y":0.77},{"n":2,"k":"s1","x":-0.11,"y":0.73},{"n":2,"k":"s1","x":0.24,"y":0.66},{"n":2,"k":"s1","x":-0.58,"y":0.8},{"n":2,"k":"s1","x":-0.5,"y":0.69},{"n":2,"k":"s1","x":-0.46,"y":0.69},{"n":2,"k":"s1","x":-0.35,"y":0.61},{"n":2,"k":"s1","x":-0.65,"y":0.58},{"n":2,"k":"s1","x":-0.85,"y":0.3},{"n":2,"k":"s1","x":-0.88,"y":0.24},{"n":2,"k":"s1","x":-0.93,"y":0.18},{"n":2,"k":"s1","x":-0.93,"y":0.1},{"n":2,"k":"s1","x":-0.83,"y":0.1},{"n":2,"k":"s1","x":-0.93,"y":0.02},{"n":2,"k":"s1","x":0.68,"y":0.63},{"n":2,"k":"s1","x":0.74,"y":0.61},{"n":2,"k":"s1","x":0.76,"y":-0.37},{"n":2,"k":"s1","x":0.56,"y":-0.03},{"n":2,"k":"s1","x":0.47,"y":-0.63},{"n":2,"k":"s1","x":0.5,"y":-0.8},{"n":2,"k":"s1","x":0.66,"y":-0.74},{"n":2,"k":"s1","x":0.28,"y":-0.91},{"n":2,"k":"s1","x":0.07,"y":-0.99},{"n":2,"k":"s1","x":-0.09,"y":-0.85},{"n":2,"k":"s1","x":-0.01,"y":-0.64},{"n":2,"k":"s1","x":-0.46,"y":-0.83},{"n":2,"k":"s1","x":-0.57,"y":-0.82},{"n":2,"k":"s1","x":-0.65,"y":-0.72},{"n":2,"k":"s1","x":-0.7,"y":-0.67},
{"n":2,"k":"s2","x":0.12,"y":0.8},{"n":2,"k":"s2","x":0.18,"y":0.75},{"n":2,"k":"s2","x":0.47,"y":0.87},{"n":2,"k":"s2","x":0.39,"y":0.85},{"n":2,"k":"s2","x":0.61,"y":0.64},{"n":2,"k":"s2","x":0.68,"y":0.5},{"n":2,"k":"s2","x":0.8,"y":0.5},{"n":2,"k":"s2","x":-0.75,"y":0.51},{"n":2,"k":"s2","x":-0.67,"y":0.63},{"n":2,"k":"s2","x":-0.8,"y":0.45},{"n":2,"k":"s2","x":-0.35,"y":0.48},{"n":2,"k":"s2","x":0.8,"y":0.29},{"n":2,"k":"s2","x":0.52,"y":0.18},{"n":2,"k":"s2","x":0.52,"y":0.1},{"n":2,"k":"s2","x":0.69,"y":-0.02},{"n":2,"k":"s2","x":0.92,"y":0.08},{"n":2,"k":"s2","x":0.95,"y":0.02},{"n":2,"k":"s2","x":0.85,"y":-0.02},{"n":2,"k":"s2","x":-0.94,"y":-0.05},{"n":2,"k":"s2","x":-0.78,"y":-0.54},{"n":2,"k":"s2","x":-0.73,"y":-0.58},{"n":2,"k":"s2","x":-0.22,"y":-0.82},{"n":2,"k":"s2","x":-0.12,"y":-0.8},
{"n":2,"k":"s3","x":-0.14,"y":0.32},{"n":2,"k":"s3","x":-0.24,"y":0.21},{"n":2,"k":"s3","x":-0.21,"y":0.18},{"n":2,"k":"s3","x":0.15,"y":0.21},{"n":2,"k":"s3","x":0.19,"y":0.18},{"n":2,"k":"s3","x":-0.56,"y":0},{"n":2,"k":"s3","x":-0.51,"y":0},{"n":2,"k":"s3","x":-0.4,"y":0},{"n":2,"k":"s3","x":-0.22,"y":0.08},{"n":2,"k":"s3","x":-0.14,"y":0.08},{"n":2,"k":"s3","x":0.02,"y":0.05},{"n":2,"k":"s3","x":0.15,"y":0.08},{"n":2,"k":"s3","x":0.21,"y":0.08},{"n":2,"k":"s3","x":0.08,"y":-0.02},{"n":2,"k":"s3","x":0.13,"y":-0.05},{"n":2,"k":"s3","x":0.2,"y":-0.11},{"n":2,"k":"s3","x":-0.17,"y":-0.16},{"n":2,"k":"s3","x":-0.11,"y":-0.27},{"n":2,"k":"s3","x":-0.03,"y":-0.3},{"n":2,"k":"s3","x":0.04,"y":-0.26},{"n":2,"k":"s3","x":0.08,"y":-0.21},{"n":2,"k":"s3","x":0.15,"y":-0.29},{"n":2,"k":"s3","x":0.28,"y":-0.29},{"n":2,"k":"s3","x":-0.38,"y":-0.48},{"n":2,"k":"s3","x":-0.35,"y":-0.46},{"n":2,"k":"s3","x":-0.45,"y":-0.64},
{"n":2,"k":"m1","x":-0.49,"y":0.82},{"n":2,"k":"m2","x":0.84,"y":0.51},{"n":2,"k":"m3","x":-0.01,"y":-0.05},
{"n":3,"k":"s1","x":-0.78,"y":0.46},{"n":3,"k":"s1","x":0.31,"y":-0.74},{"n":3,"k":"s1","x":0.6,"y":-0.71},{"n":3,"k":"s1","x":0.76,"y":-0.61},{"n":3,"k":"s1","x":0.34,"y":-0.92},{"n":3,"k":"s1","x":0.42,"y":-0.88},{"n":3,"k":"s1","x":0.48,"y":-0.84},
{"n":3,"k":"s2","x":0.45,"y":0.61},{"n":3,"k":"s2","x":0.53,"y":0.67},{"n":3,"k":"s2","x":0.74,"y":0.62},{"n":3,"k":"s2","x":0.79,"y":0.38},{"n":3,"k":"s2","x":0.07,"y":0.3},{"n":3,"k":"s2","x":-0.93,"y":-0.37},
{"n":3,"k":"s3","x":-0.13,"y":0.03},{"n":3,"k":"s3","x":-0.14,"y":-0.12},{"n":3,"k":"s3","x":-0.85,"y":-0.29},{"n":3,"k":"s3","x":-0.08,"y":-0.34},
{"n":3,"k":"m1","x":0.55,"y":-0.8},{"n":3,"k":"m2","x":0.74,"y":0.54},{"n":3,"k":"m3","x":-0.14,"y":-0.05}]
}
}
